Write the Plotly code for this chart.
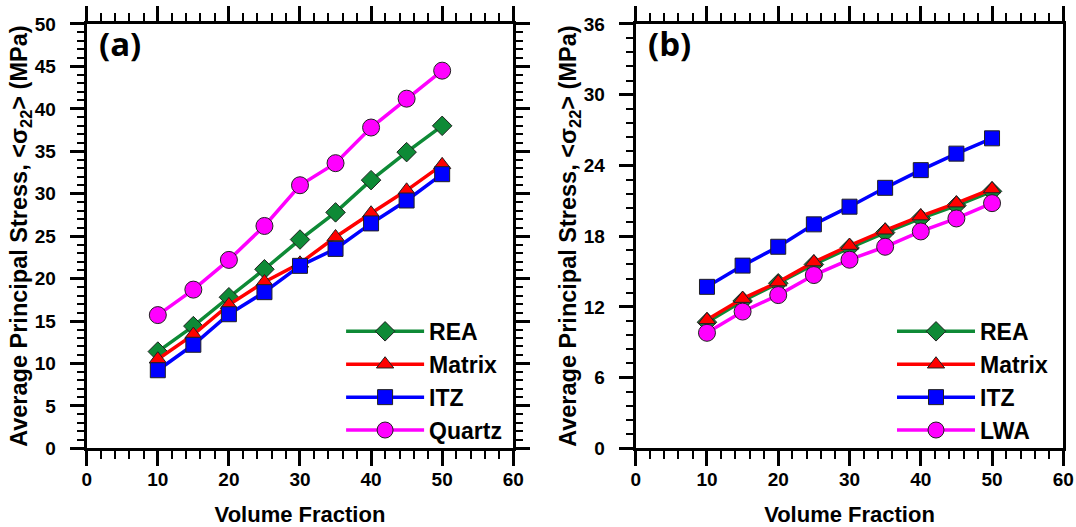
import plotly.graph_objects as go

vf = [10, 15, 20, 25, 30, 35, 40, 45, 50]

# Panel (a)
a_rea = [11.4, 14.4, 17.8, 21.1, 24.6, 27.8, 31.6, 34.9, 38.0]
a_matrix = [10.5, 13.4, 16.9, 19.6, 21.8, 24.9, 27.7, 30.4, 33.4]
a_itz = [9.2, 12.2, 15.8, 18.4, 21.5, 23.5, 26.5, 29.2, 32.3]
a_quartz = [15.7, 18.7, 22.2, 26.2, 31.0, 33.6, 37.8, 41.2, 44.5]

# Panel (b)
b_rea = [10.7, 12.5, 14.0, 15.6, 17.0, 18.3, 19.5, 20.6, 21.8]
b_matrix = [10.9, 12.7, 14.1, 15.8, 17.2, 18.5, 19.7, 20.8, 22.0]
b_itz = [13.7, 15.5, 17.1, 19.0, 20.5, 22.1, 23.6, 25.0, 26.3]
b_lwa = [9.8, 11.6, 13.0, 14.7, 16.0, 17.1, 18.4, 19.5, 20.8]

GREEN = "#0e8a36"
RED = "#ff0000"
BLUE = "#0000ff"
MAG = "#ff00ff"
FONT = "Liberation Sans"

series_a = [
    ("REA", a_rea, GREEN, "diamond", 15),
    ("Matrix", a_matrix, RED, "triangle-up", 15),
    ("ITZ", a_itz, BLUE, "square", 15),
    ("Quartz", a_quartz, MAG, "circle", 17),
]
series_b = [
    ("REA", b_rea, GREEN, "diamond", 15),
    ("Matrix", b_matrix, RED, "triangle-up", 15),
    ("ITZ", b_itz, BLUE, "square", 15),
    ("LWA", b_lwa, MAG, "circle", 17),
]

fig = go.Figure()

for panel, series, xa, ya, lg in [("a", series_a, "x", "y", "legend"),
                                  ("b", series_b, "x2", "y2", "legend2")]:
    for name, ys, col, sym, sz in series:
        fig.add_trace(go.Scatter(
            x=vf, y=ys, name=name, mode="lines+markers",
            line=dict(color=col, width=3.5),
            marker=dict(symbol=sym, size=sz, color=col, line=dict(color="#202020", width=1)),
            xaxis=xa, yaxis=ya, legend=lg, legendgroup=panel + name,
        ))

tickfont = dict(family=FONT, size=19, color="black", weight="bold")
titlefont = dict(family=FONT, size=23.5, color="black", weight="bold")

def xax(domain, anchor):
    return dict(
        domain=domain, anchor=anchor, range=[0, 60], dtick=10, tick0=0, automargin=False,
        showgrid=False, zeroline=False, showline=True, linewidth=3, linecolor="black",
        mirror="ticks", ticks="outside", ticklen=15, tickwidth=2.5, tickcolor="black",
        minor=dict(dtick=2, ticks="outside", ticklen=8, tickwidth=2, tickcolor="black", showgrid=False),
        tickfont=tickfont, ticklabelstandoff=-3,
        title=dict(text="Volume Fraction", font=dict(family=FONT, size=22, color="black", weight="bold"), standoff=22),
    )

ytitle = "Average Principal Stress, <σ<sub>22</sub>> (MPa)"

legfont = dict(family=FONT, size=23, color="black", weight="bold")

def yax(domain, anchor, rng, dt, mdt, mirror):
    return dict(
        domain=domain, anchor=anchor, range=rng, dtick=dt, tick0=0, automargin=False,
        showgrid=False, zeroline=False, showline=True, linewidth=3, linecolor="black",
        mirror=mirror, ticks="outside", ticklen=14, tickwidth=2.5, tickcolor="black",
        minor=dict(dtick=mdt, ticks="outside", ticklen=7, tickwidth=2, tickcolor="black", showgrid=False),
        tickfont=tickfont, ticklabelstandoff=10,
        title=dict(text=ytitle, font=titlefont, standoff=0),
    )

fig.update_layout(
    width=1076, height=527,
    margin=dict(l=0, r=0, t=0, b=0, autoexpand=False),
    paper_bgcolor="white", plot_bgcolor="white",
    showlegend=True,
    xaxis=xax([0.0806, 0.4770], "y"),
    xaxis2=xax([0.5908, 0.9882], "y2"),
    yaxis=yax([0.1493, 0.9545], "x", [0, 50], 5, 1, "ticks"),
    yaxis2=yax([0.1493, 0.9545], "x2", [0, 36], 6, 1.2, True),
    yaxis3=dict(
        overlaying="y2", anchor="x2", side="right", range=[0, 40], dtick=5, tick0=0, automargin=False,
        showgrid=False, zeroline=False, showline=False,
        ticks="outside", ticklen=14, tickwidth=2.5, tickcolor="black",
        minor=dict(dtick=1, ticks="outside", ticklen=7, tickwidth=2, tickcolor="black", showgrid=False),
        showticklabels=False,
    ),
    legend=dict(
        x=0.317, y=0.412, xanchor="left", yanchor="top",
        bgcolor="rgba(0,0,0,0)", borderwidth=0, font=legfont,
        itemwidth=78, traceorder="grouped", tracegroupgap=0,
    ),
    legend2=dict(
        x=0.829, y=0.412, xanchor="left", yanchor="top",
        bgcolor="rgba(0,0,0,0)", borderwidth=0, font=legfont,
        itemwidth=78, traceorder="grouped", tracegroupgap=0,
    ),
    annotations=[
        dict(text="(a)", x=0.0, y=1.0, xref="x domain", yref="y domain",
             xanchor="left", yanchor="top", xshift=10, yshift=5, showarrow=False,
             font=dict(family="Open Sans", size=33, color="black", weight="bold")),
        dict(text="(b)", x=0.0, y=1.0, xref="x2 domain", yref="y2 domain",
             xanchor="left", yanchor="top", xshift=10, yshift=5, showarrow=False,
             font=dict(family="Open Sans", size=33, color="black", weight="bold")),
    ],
)

fig.write_html("out.html")
